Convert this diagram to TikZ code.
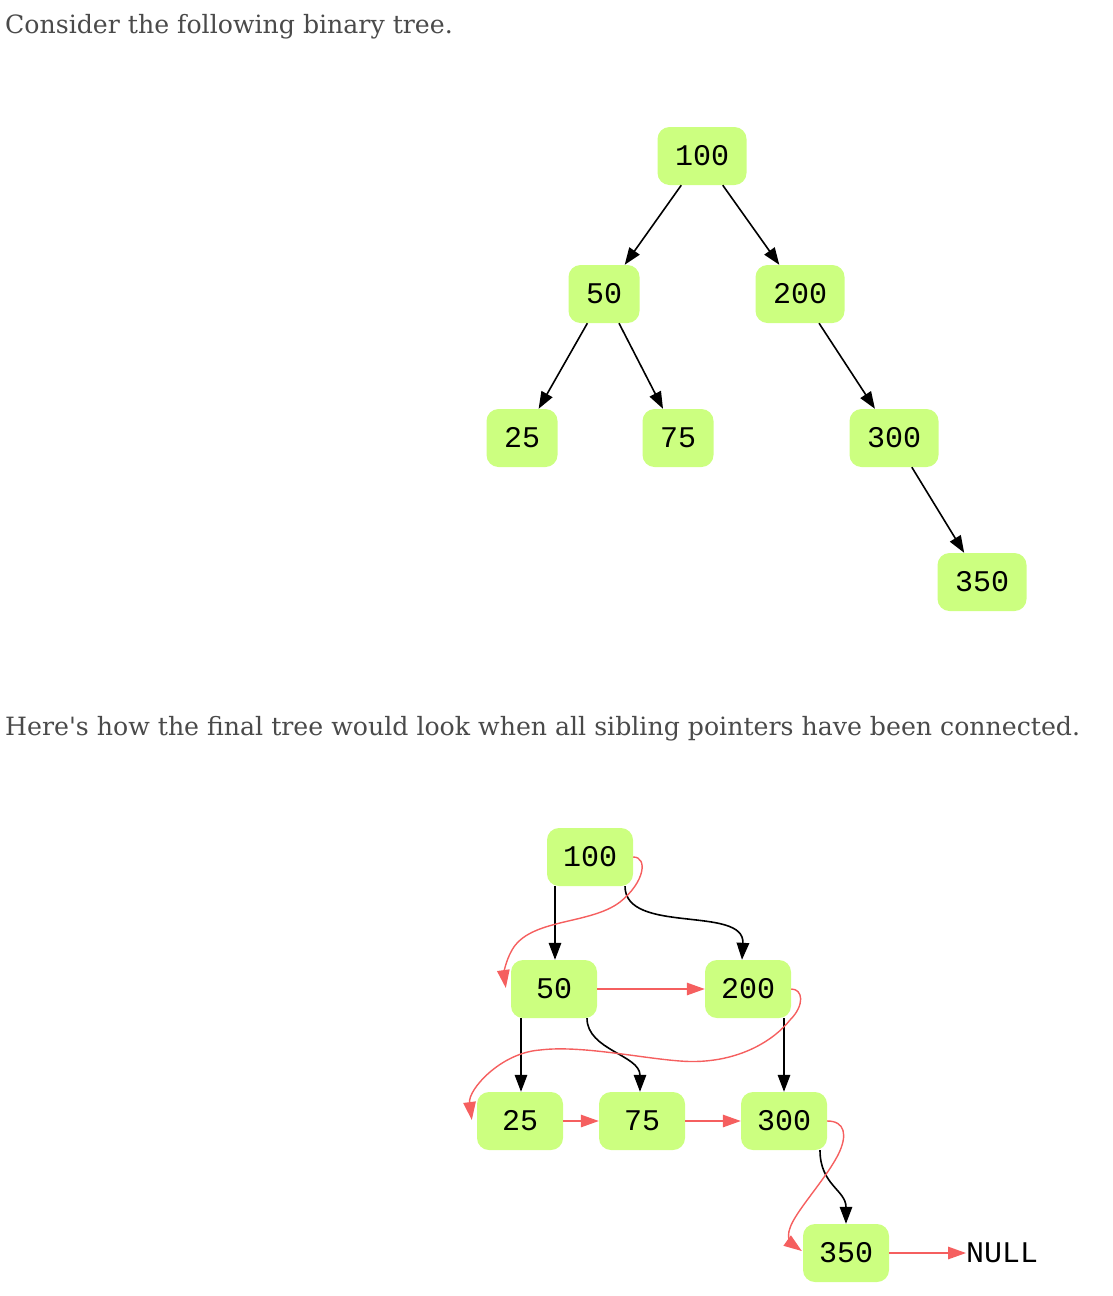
\documentclass[tikz,border=0pt]{standalone}
\usepackage{fontspec}
\setmainfont{DejaVu Serif}[Ligatures=TeXOff]
\newfontfamily\monofont{Liberation Mono}
\usetikzlibrary{arrows.meta}
\definecolor{nodegreen}{RGB}{204,255,128}
\definecolor{redline}{RGB}{245,95,95}
\definecolor{prose}{RGB}{74,74,74}
\tikzset{
  tnode/.style={rounded corners=12pt, fill=nodegreen, minimum height=58pt, inner ysep=0pt, inner xsep=17.5pt, font=\monofont\fontsize{30}{30}\selectfont},
  bnode/.style={tnode, minimum width=86pt, inner xsep=0pt},
  child/.style={draw=black, line width=1.6pt, -{Triangle[length=17pt,width=12.5pt]}},
  sib/.style={draw=redline, line width=1.4pt, -{Triangle[length=18pt,width=12.5pt]}},
  prosetext/.style={anchor=base west, inner sep=0pt, text=prose, font=\fontsize{25.2}{30}\selectfont}
}
\begin{document}
\begin{tikzpicture}[x=1pt,y=-1pt]
\useasboundingbox (0,0) rectangle (1112,1296);
\node[prosetext] (t1) at (5,33) {Consider the following binary tree.};
\node[prosetext] (t2) at (5,735) {Here's how the final tree would look when all sibling pointers have been connected.};
% top tree
\node[tnode] (a100) at (702,156) {100};
\node[tnode] (a50) at (604,294) {50};
\node[tnode] (a200) at (800,294) {200};
\node[tnode] (a25) at (522,438) {25};
\node[tnode] (a75) at (678,438) {75};
\node[tnode] (a300) at (894,438) {300};
\node[tnode] (a350) at (982,582) {350};
\draw[child] (a100) -- (a50);
\draw[child] (a100) -- (a200);
\draw[child] (a50) -- (a25);
\draw[child] (a50) -- (a75);
\draw[child] (a200) -- (a300);
\draw[child] (a300) -- (a350);
% bottom tree
\node[bnode] (b100) at (590,857) {100};
\node[bnode] (b50) at (554,989) {50};
\node[bnode] (b200) at (748,989) {200};
\node[bnode] (b25) at (520,1121) {25};
\node[bnode] (b75) at (642,1121) {75};
\node[bnode] (b300) at (784,1121) {300};
\node[bnode] (b350) at (846,1253) {350};
\node[inner sep=0pt, anchor=west, font=\monofont\fontsize{30}{30}\selectfont] (null) at (966,1253) {NULL};
% child pointers
\draw[child] ([xshift=-35pt]b100.south) -- ([xshift=1pt]b50.north);
\draw[child] ([xshift=35pt]b100.south) .. controls (625,935) and (745,905) .. ([xshift=-6pt]b200.north);
\draw[child] ([xshift=-33pt]b50.south) -- ([xshift=1pt]b25.north);
\draw[child] ([xshift=33pt]b50.south) .. controls (587,1050) and (640,1055) .. ([xshift=-2pt]b75.north);
\draw[child] ([xshift=36pt]b200.south) -- (b300.north);
\draw[child] ([xshift=36pt]b300.south) .. controls (820,1185) and (846,1190) .. (b350.north);
% sibling pointers
\draw[sib] (b100.east) .. controls (648,857) and (645,882) .. (620,902)
  .. controls (590,925) and (530,918) .. (512,950)
  .. controls (505,962) and (504,975) .. ([xshift=-5pt,yshift=1pt]b50.west);
\draw[sib] (b50) -- (b200);
\draw[sib] (b200.east) .. controls (803,989) and (805,1005) .. (790,1020)
  .. controls (770,1045) and (730,1065) .. (680,1061)
  .. controls (640,1058) and (580,1045) .. (540,1050)
  .. controls (500,1053) and (468,1090) .. ([xshift=-5pt,yshift=1pt]b25.west);
\draw[sib] (b25) -- (b75);
\draw[sib] (b75) -- (b300);
\draw[sib] (b300.east) .. controls (845,1121) and (848,1135) .. (838,1155)
  .. controls (825,1180) and (795,1212) .. (790,1228)
  .. controls (786,1238) and (792,1244) .. ([xshift=-1pt,yshift=2pt]b350.west);
\draw[sib] (b350) -- (null);
\end{tikzpicture}
\end{document}
